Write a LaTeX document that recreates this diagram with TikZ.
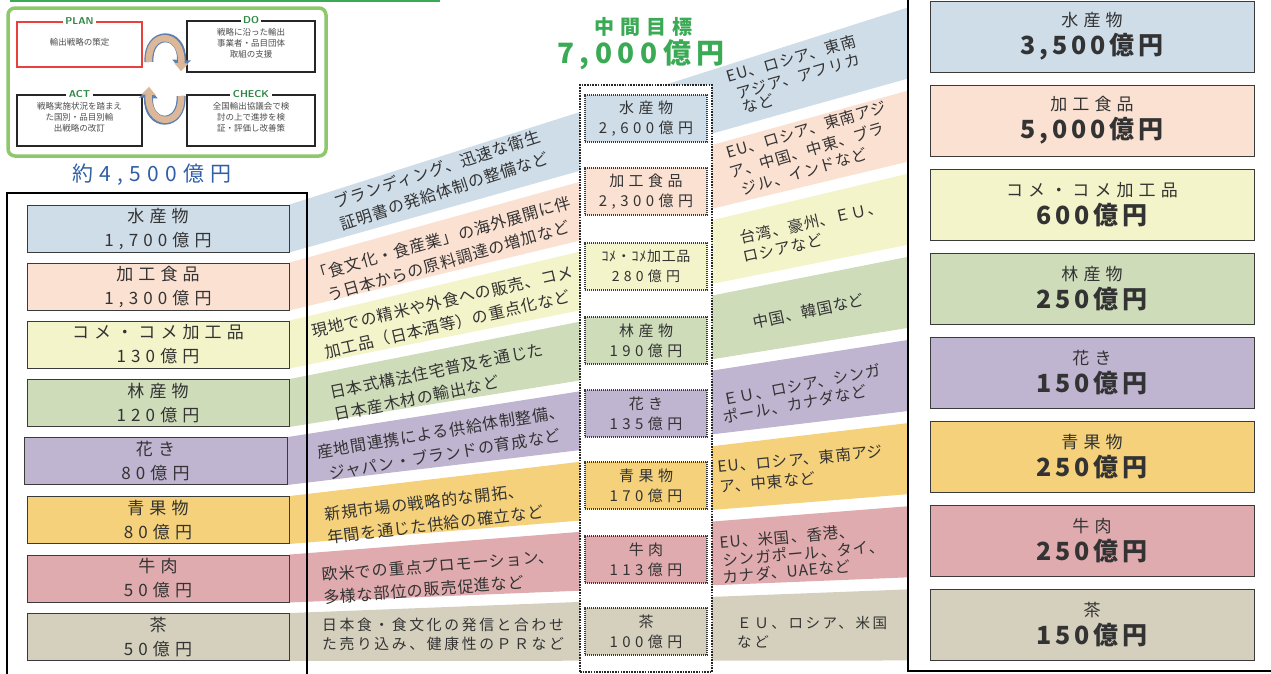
\documentclass[tikz,border=0pt]{standalone}
\usepackage{fontspec}
\setmainfont{Noto Sans CJK JP}
\newfontfamily\jpw{Noto Sans CJK JP}[LetterSpace=30]
\newfontfamily\jpm{Noto Sans CJK JP}[LetterSpace=5]
\newfontfamily\jpt{Noto Sans CJK JP}[LetterSpace=18]
\newfontfamily\jpb{Noto Sans CJK JP}[LetterSpace=15]
\newfontfamily\jpc{Noto Sans CJK JP}[LetterSpace=20]
\newcommand\bignum{\jpb\fontsize{25}{25}\selectfont\bfseries}
\usetikzlibrary{arrows.meta}
\pgfdeclarelayer{bg}
\pgfsetlayers{bg,main}
\definecolor{c1}{HTML}{CFDDE9}
\definecolor{c2}{HTML}{FBE1D2}
\definecolor{c3}{HTML}{F3F4C9}
\definecolor{c4}{HTML}{CEDCBA}
\definecolor{c5}{HTML}{C0B5D1}
\definecolor{c6}{HTML}{F4D17A}
\definecolor{c7}{HTML}{DFABAE}
\definecolor{c8}{HTML}{D5D0BD}
\definecolor{txt}{HTML}{333333}
\definecolor{boxline}{HTML}{3A3A3A}
\definecolor{goalgreen}{HTML}{3AAA55}
\definecolor{pdcagreen}{HTML}{8DC86A}
\definecolor{basblue}{HTML}{2F5FA7}
\definecolor{planred}{HTML}{E8403A}
\definecolor{arrowtan}{HTML}{DDB898}
\definecolor{arrowblue}{HTML}{5A7FB0}
\tikzset{
 lbox/.style={draw=boxline, line width=0.9pt, minimum width=262pt, minimum height=47pt, inner sep=0pt, align=center, text=txt, font=\jpw\fontsize{17}{24}\selectfont},
 mbox/.style={draw=boxline, line width=1.3pt, dash pattern=on 1.2pt off 0.8pt, minimum width=122pt, minimum height=47pt, inner sep=0pt, align=center, text=txt, font=\jpw\fontsize{15}{20}\selectfont},
 rbox/.style={draw=boxline, line width=0.9pt, minimum width=324pt, minimum height=71pt, inner sep=0pt, align=center, text=txt, font=\jpw\fontsize{17}{28}\selectfont},
 btxt/.style={text=txt, inner sep=0pt, font=\jpm\fontsize{16}{23}\selectfont},
 rtxt/.style={text=txt, inner sep=0pt, anchor=west, font=\jpm\fontsize{15.5}{18}\selectfont},
 pbox/.style={draw=black!85, line width=1.4pt, minimum width=125pt, minimum height=51pt, inner sep=0pt, fill=white},
 plabel/.style={fill=white, inner sep=2.5pt, text=goalgreen!80!black, font=\sffamily\bfseries\fontsize{10}{10}\selectfont},
 ptext/.style={text=black!70, inner sep=0pt, align=center, font=\fontsize{8.5}{11}\selectfont},
}
\begin{document}
\begin{tikzpicture}[x=1pt,y=-1pt]
\useasboundingbox (0,0) rectangle (1271,673);
% top green line
\draw[goalgreen, line width=2pt] (10,1) -- (440,1);
% PDCA panel
\node[draw=pdcagreen, line width=3.5pt, rounded corners=7pt, minimum width=318pt, minimum height=148pt, fill=white, inner sep=0pt] (pdca) at (167,82) {};
\node[pbox, draw=planred, minimum height=45pt] (plan) at (79.5,44.5) {};
\node[pbox, minimum width=128pt] (do) at (251,46.5) {};
\node[pbox] (act) at (79.5,120.5) {};
\node[pbox, minimum width=128pt] (check) at (251,120.5) {};
\node[plabel] (planl) at (plan.north) {PLAN};
\node[plabel] (dol) at (do.north) {DO};
\node[plabel] (actl) at (act.north) {ACT};
\node[plabel] (checkl) at (check.north) {CHECK};
\node[ptext] (plant) at ([yshift=2pt]plan.center) {輸出戦略の策定};
\node[ptext] (dot) at ([yshift=3pt]do.center) {戦略に沿った輸出\\事業者・品目団体\\取組の支援};
\node[ptext] (actt) at ([yshift=3pt]act.center) {戦略実施状況を踏まえ\\た国別・品目別輸\\出戦略の改訂};
\node[ptext] (checkt) at ([yshift=3pt]check.center) {全国輸出協議会で検\\討の上で進捗を検\\証・評価し改善策};
\coordinate (a1s) at (149,62);
\coordinate (a1e) at (181,70);
\coordinate (a2s) at (181,96);
\coordinate (a2e) at (149,88);
\draw[arrowblue, line width=9pt, -{Triangle[width=18pt,length=10pt]}] (a1s) .. controls (147,30) and (183,30) .. (a1e);
\draw[arrowtan, line width=6.5pt, -{Triangle[width=14pt,length=8pt]}] (a1s) .. controls (147,30) and (183,30) .. ([yshift=-1.2pt]a1e);
\draw[arrowblue, line width=9pt, -{Triangle[width=18pt,length=10pt]}] (a2s) .. controls (183,128) and (147,128) .. (a2e);
\draw[arrowtan, line width=6.5pt, -{Triangle[width=14pt,length=8pt]}] (a2s) .. controls (183,128) and (147,128) .. ([yshift=1.2pt]a2e);
% base value
\node[text=basblue, inner sep=0pt, font=\jpw\fontsize{21}{21}\selectfont] (base) at (152,175) {約4,500億円};
% goal
\node[text=goalgreen, inner sep=0pt, font=\jpw\fontsize{20}{20}\selectfont\bfseries] (goal) at (643,27) {中間目標};
\node[text=goalgreen, inner sep=0pt, font=\jpc\fontsize{28}{28}\selectfont\bfseries] (goalv) at (641,55) {7,000億円};
% left frame
\draw[black, line width=1.4pt] (7,674) -- (7,193) -- (307,193) -- (307,674);
% right frame
\draw[black, line width=1.4pt] (908,-2) -- (908,671) -- (1275,671);
% left boxes
\node[lbox, fill=c1] (L1) at (158,228.5) {水産物\\1,700億円};
\node[lbox, fill=c2] (L2) at (158,286.5) {加工食品\\1,300億円};
\node[lbox, fill=c3] (L3) at (158,344.5) {コメ・コメ加工品\\130億円};
\node[lbox, fill=c4] (L4) at (158,403) {林産物\\120億円};
\node[lbox, fill=c5, minimum width=263pt] (L5) at (155.5,461) {花き\\80億円};
\node[lbox, fill=c6] (L6) at (158,520) {青果物\\80億円};
\node[lbox, fill=c7] (L7) at (158,578.5) {牛肉\\50億円};
\node[lbox, fill=c8] (L8) at (158,637) {茶\\50億円};
% right boxes
\node[rbox, fill=c1] (R1) at (1092,36.5) {水産物\\{\bignum 3,500億円}};
\node[rbox, fill=c2] (R2) at (1092,120.5) {加工食品\\{\bignum 5,000億円}};
\node[rbox, fill=c3] (R3) at (1092,204.5) {コメ・コメ加工品\\{\bignum 600億円}};
\node[rbox, fill=c4] (R4) at (1092,288.5) {林産物\\{\bignum 250億円}};
\node[rbox, fill=c5] (R5) at (1092,372.5) {花き\\{\bignum 150億円}};
\node[rbox, fill=c6] (R6) at (1092,456.5) {青果物\\{\bignum 250億円}};
\node[rbox, fill=c7] (R7) at (1092,540.5) {牛肉\\{\bignum 250億円}};
\node[rbox, fill=c8] (R8) at (1092,624.5) {茶\\{\bignum 150億円}};
% bands
\begin{pgfonlayer}{bg}
\begin{scope}
\clip (280,-5) rectangle (908,680);
\foreach \i/\c in {1/c1,2/c2,3/c3,4/c4,5/c5,6/c6,7/c7,8/c8}
 \fill[\c] (L\i.north east) -- (R\i.north west) -- (R\i.south west) -- (L\i.south east) -- cycle;
\end{scope}
\end{pgfonlayer}
% middle column
\node[draw=black!85, line width=2.6pt, dash pattern=on 1.6pt off 1.1pt, fill=white, minimum width=132pt, minimum height=587pt, inner sep=0pt] (mid) at (646,378.5) {};
\node[mbox, fill=c1] (M1) at (646,118.5) {水産物\\2,600億円};
\node[mbox, fill=c2] (M2) at (646,191.5) {加工食品\\2,300億円};
\node[mbox, fill=c3, font=\jpm\fontsize{14}{20}\selectfont] (M3) at (646,266.5) {ｺﾒ・ｺﾒ加工品\\{\jpw 280億円}};
\node[mbox, fill=c4] (M4) at (646,340.5) {林産物\\190億円};
\node[mbox, fill=c5] (M5) at (646,413.5) {花き\\135億円};
\node[mbox, fill=c6] (M6) at (646,485.5) {青果物\\170億円};
\node[mbox, fill=c7] (M7) at (646,559.5) {牛肉\\113億円};
\node[mbox, fill=c8] (M8) at (646,631.5) {茶\\100億円};
% band texts (left segment)
\node[btxt, rotate=18, align=center] (t1) at (441,180) {ブランディング、迅速な衛生\\証明書の発給体制の整備など};
\node[btxt, rotate=16, align=center] (t2) at (445,250) {「食文化・食産業」の海外展開に伴\\う日本からの原料調達の増加など};
\node[btxt, rotate=13, align=center] (t3) at (445,313) {現地での精米や外食への販売、コメ\\加工品（日本酒等）の重点化など};
\node[btxt, rotate=11.5, align=left] (t4) at (439,382) {日本式構法住宅普及を通じた\\日本産木材の輸出など};
\node[btxt, rotate=9.4, align=center] (t5) at (443,443) {産地間連携による供給体制整備、\\ジャパン・ブランドの育成など};
\node[btxt, rotate=7, align=left] (t6) at (434,513) {新規市場の戦略的な開拓、\\年間を通じた供給の確立など};
\node[btxt, rotate=4.5, align=left] (t7) at (439,577) {欧米での重点プロモーション、\\多様な部位の販売促進など};
\node[btxt, align=left, font=\jpt\fontsize{14.8}{19}\selectfont] (t8) at (443,634) {日本食・食文化の発信と合わせ\\た売り込み、健康性のＰＲなど};
% band texts (right segment)
\node[rtxt, rotate=16] (r1a) at (727,77) {EU、ロシア、東南};
\node[rtxt, rotate=16] (r1b) at (737,94) {アジア、アフリカ};
\node[rtxt, rotate=16] (r1c) at (743,108) {など};
\node[rtxt, rotate=16.5] (r2a) at (727,153) {EU、ロシア、東南アジ};
\node[rtxt, rotate=16.5] (r2b) at (730,173) {ア、中国、中東、ブラ};
\node[rtxt, rotate=16.5] (r2c) at (742,190) {ジル、インドなど};
\node[rtxt, rotate=12.5] (r3a) at (740,238) {台湾、豪州、ＥＵ、};
\node[rtxt, rotate=12.5] (r3b) at (743,257) {ロシアなど};
\node[rtxt, rotate=12] (r4a) at (753,323) {中国、韓国など};
\node[rtxt, rotate=11] (r5a) at (723,400) {ＥＵ、ロシア、シンガ};
\node[rtxt, rotate=11] (r5b) at (723,418) {ポール、カナダなど};
\node[rtxt, rotate=5.5] (r6a) at (718,467) {EU、ロシア、東南アジ};
\node[rtxt, rotate=5.5] (r6b) at (720,487) {ア、中東など};
\node[rtxt, rotate=5] (r7a) at (720,543) {EU、米国、香港、};
\node[rtxt, rotate=5] (r7b) at (723,560) {シンガポール、タイ、};
\node[rtxt, rotate=5] (r7c) at (723,577) {カナダ、UAEなど};
\node[rtxt, font=\jpt\fontsize{14.5}{18}\selectfont] (r8a) at (737,623) {ＥＵ、ロシア、米国};
\node[rtxt, font=\jpt\fontsize{14.5}{18}\selectfont] (r8b) at (737,642) {など};
\end{tikzpicture}
\end{document}
